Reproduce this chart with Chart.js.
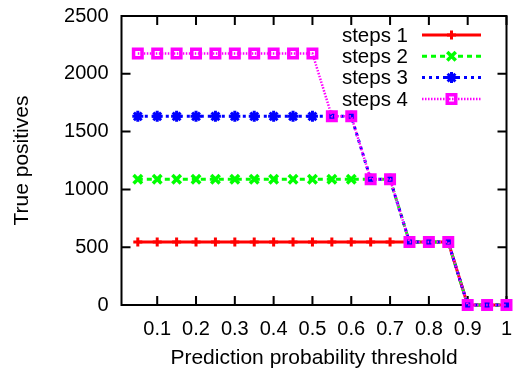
<!DOCTYPE html>
<html>
<head>
<meta charset="utf-8">
<script src="https://cdn.jsdelivr.net/npm/chart.js@4/dist/chart.umd.min.js"></script>
<style>
  html, body { margin: 0; padding: 0; background: #fff; }
  #wrap { width: 516px; height: 373px; }
</style>
</head>
<body>
<div id="wrap"><canvas id="grafico"></canvas></div>
<script>
// prediction probability thresholds (x) and true positives per model
const thresholds = [0.05, 0.1, 0.15, 0.2, 0.25, 0.3, 0.35, 0.4, 0.45, 0.5,
                    0.55, 0.6, 0.65, 0.7, 0.75, 0.8, 0.85, 0.9, 0.95, 1.0];
const steps1 = [544, 544, 544, 544, 544, 544, 544, 544, 544, 544,
                544, 544, 544, 544, 544, 544, 544, 0, 0, 0];
const steps2 = [1088, 1088, 1088, 1088, 1088, 1088, 1088, 1088, 1088, 1088,
                1088, 1088, 1088, 1088, 544, 544, 544, 0, 0, 0];
const steps3 = [1632, 1632, 1632, 1632, 1632, 1632, 1632, 1632, 1632, 1632,
                1632, 1632, 1088, 1088, 544, 544, 544, 0, 0, 0];
const steps4 = [2176, 2176, 2176, 2176, 2176, 2176, 2176, 2176, 2176, 2176,
                1632, 1632, 1088, 1088, 544, 544, 544, 0, 0, 0];
const seriesNames = ['steps 1', 'steps 2', 'steps 3', 'steps 4'];
const xTicks = [0.1, 0.2, 0.3, 0.4, 0.5, 0.6, 0.7, 0.8, 0.9, 1.0];
const yTicks = [0, 500, 1000, 1500, 2000, 2500];

const FONT = 'Liberation Sans';

const estilos = [
  { color: '#ff0000', dash: [],         width: 3,   point: 'cross',    radius: 4.5, pw: 3 },
  { color: '#00ff00', dash: [5, 4],     width: 3,   point: 'crossRot', radius: 6,   pw: 3.5 },
  { color: '#0000ff', dash: [3, 4],     width: 3,   point: 'star',     radius: 5.5, pw: 3 },
  { color: '#ff00ff', dash: [1.5, 1.5], width: 2.5, point: 'rect',     radius: 6,   pw: 3.5 }
];

function pares(valores) {
  return thresholds.map((x, i) => ({ x: x, y: valores[i] }));
}

const datasets = [steps1, steps2, steps3, steps4].map((serie, i) => ({
  label: seriesNames[i],
  data: pares(serie),
  borderColor: estilos[i].color,
  backgroundColor: 'rgba(0,0,0,0)',
  borderWidth: estilos[i].width,
  borderDash: estilos[i].dash,
  pointStyle: estilos[i].point,
  pointRadius: estilos[i].radius,
  pointBorderWidth: estilos[i].pw,
  pointBorderColor: estilos[i].color,
  pointBackgroundColor: 'rgba(0,0,0,0)',
  tension: 0,
  clip: false,
  order: 4 - i // later series drawn on top
}));

// gnuplot-like border with inward ticks on all four sides
const moldura = {
  id: 'moldura',
  beforeDatasetsDraw(chart) {
    const { ctx, chartArea: a, scales } = chart;
    const tl = 9;
    ctx.save();
    ctx.strokeStyle = '#000';
    ctx.lineWidth = 2;
    ctx.beginPath();
    xTicks.forEach(v => {
      const x = scales.x.getPixelForValue(v);
      ctx.moveTo(x, a.bottom); ctx.lineTo(x, a.bottom - tl);
      ctx.moveTo(x, a.top); ctx.lineTo(x, a.top + tl);
    });
    yTicks.forEach(v => {
      const y = scales.y.getPixelForValue(v);
      ctx.moveTo(a.left, y); ctx.lineTo(a.left + tl, y);
      ctx.moveTo(a.right, y); ctx.lineTo(a.right - tl, y);
    });
    ctx.stroke();
    ctx.strokeRect(a.left, a.top, a.right - a.left, a.bottom - a.top);
    ctx.restore();
  }
};

// key in the top right: label right-aligned, line sample with marker after it
const legenda = {
  id: 'legenda',
  afterDatasetsDraw(chart) {
    const { ctx } = chart;
    const textRight = 408, x0 = 422, x1 = 481;
    ctx.save();
    ctx.font = '20.5px "' + FONT + '"';
    ctx.textAlign = 'right';
    ctx.textBaseline = 'middle';
    chart.data.datasets.forEach((ds, i) => {
      const y = 35 + i * 21.3;
      ctx.fillStyle = '#000';
      ctx.fillText(ds.label, textRight, y + 1);
      ctx.strokeStyle = ds.borderColor;
      ctx.lineWidth = ds.borderWidth;
      ctx.setLineDash(ds.borderDash);
      ctx.beginPath();
      ctx.moveTo(x0, y); ctx.lineTo(x1, y);
      ctx.stroke();
      ctx.setLineDash([]);
      ctx.lineWidth = ds.pointBorderWidth;
      ctx.fillStyle = 'rgba(0,0,0,0)';
      Chart.helpers.drawPoint(ctx, {
        pointStyle: ds.pointStyle,
        radius: ds.pointRadius,
        rotation: 0,
        borderWidth: ds.pointBorderWidth
      }, (x0 + x1) / 2, y);
    });
    ctx.restore();
  }
};

function semSobra(s) {
  s.paddingTop = 0; s.paddingBottom = 0;
  s.paddingLeft = 0; s.paddingRight = 0;
}

new Chart(document.getElementById('grafico'), {
  type: 'line',
  data: { datasets: datasets },
  options: {
    responsive: true,
    maintainAspectRatio: false,
    animation: false,
    events: [],
    layout: { padding: { top: 16, right: 9.5, left: 0, bottom: 0 } },
    plugins: { legend: { display: false }, tooltip: { enabled: false } },
    scales: {
      x: {
        type: 'linear',
        min: 0.008,
        max: 1,
        afterBuildTicks: s => { s.ticks = xTicks.map(v => ({ value: v })); },
        afterFit: s => { s.height = 68; semSobra(s); },
        grid: { display: false, drawTicks: false },
        border: { display: false },
        ticks: {
          color: '#000',
          font: { family: FONT, size: 20 },
          padding: 12,
          maxRotation: 0,
          autoSkip: false,
          callback: v => String(Number(v.toFixed(1)))
        },
        title: {
          display: true,
          text: 'Prediction probability threshold',
          color: '#000',
          font: { family: FONT, size: 21 },
          padding: { top: 0, bottom: 2 }
        }
      },
      y: {
        min: 0,
        max: 2500,
        afterBuildTicks: s => { s.ticks = yTicks.map(v => ({ value: v })); },
        afterFit: s => { s.width = 121.5; semSobra(s); },
        grid: { display: false, drawTicks: false },
        border: { display: false },
        ticks: {
          color: '#000',
          font: { family: FONT, size: 20 },
          padding: 13,
          callback: v => String(v)
        },
        title: {
          display: true,
          text: 'True positives',
          color: '#000',
          font: { family: FONT, size: 21 },
          padding: { top: 10, bottom: 0 }
        }
      }
    }
  },
  plugins: [moldura, legenda]
});
</script>
</body>
</html>
